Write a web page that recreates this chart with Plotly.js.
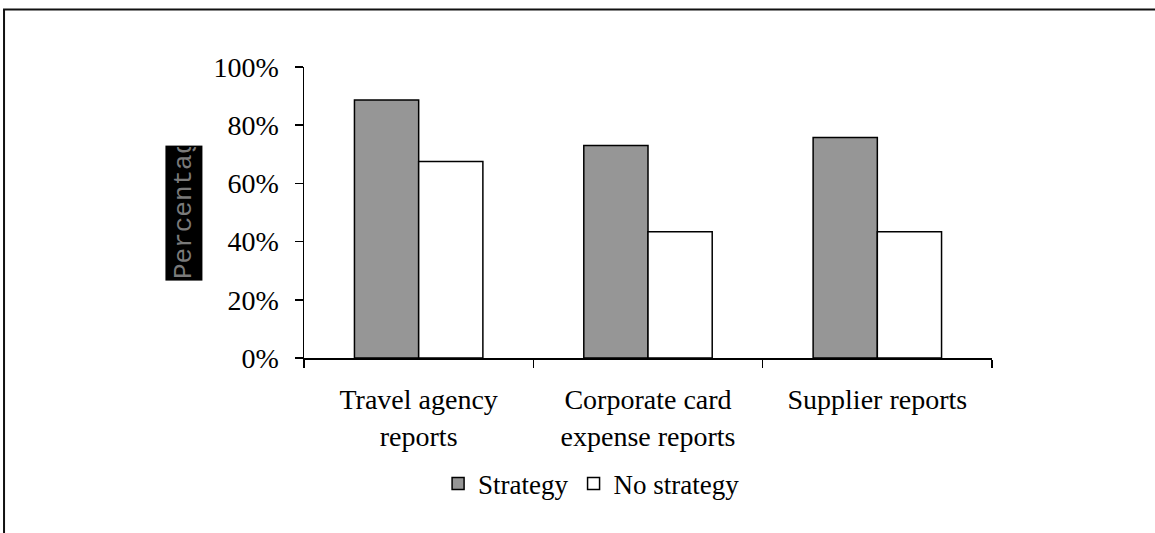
<!DOCTYPE html>
<html>
<head>
<meta charset="utf-8">
<script src="https://cdn.plot.ly/plotly-3.0.1.min.js"></script>
<style>html,body{margin:0;padding:0;background:#fff;}#chart{width:1155px;height:533px;}</style>
</head>
<body>
<div id="chart"></div>
<script>
const categories = ["Travel agency<br>reports", "Corporate card<br>expense reports", "Supplier reports"];
const strategyValues = [88.7, 73.0, 75.8];
const noStrategyValues = [67.5, 43.4, 43.4];
const seriesNames = ["Strategy", "No strategy"];
const yTickValues = [0, 20, 40, 60, 80, 100];
const yTickLabels = ["0%", "20%", "40%", "60%", "80%", "100%"];
const yAxisTitle = "Percentage";

const fontFam = "'Liberation Serif', 'Times New Roman', serif";

const traces = [
  {type: 'bar', name: seriesNames[0], x: categories, y: strategyValues,
   marker: {color: '#969696', line: {color: '#000', width: 1.5}}, hoverinfo: 'skip'},
  {type: 'bar', name: seriesNames[1], x: categories, y: noStrategyValues,
   marker: {color: '#ffffff', line: {color: '#000', width: 1.5}}, hoverinfo: 'skip'}
];

const layout = {
  width: 1155, height: 533,
  margin: {l: 304, r: 163, t: 67, b: 175, pad: 0},
  paper_bgcolor: '#fff', plot_bgcolor: '#fff',
  font: {family: fontFam, size: 28, color: '#000'},
  barmode: 'group', bargap: 0.44, bargroupgap: 0,
  showlegend: true,
  legend: {orientation: 'h', x: 0.418, y: -0.433, xanchor: 'center', yanchor: 'middle',
           font: {family: fontFam, size: 27}, bgcolor: 'rgba(0,0,0,0)', traceorder: 'normal'},
  xaxis: {showline: true, linecolor: '#000', linewidth: 1.5, ticks: 'outside', tickson: 'boundaries',
          ticklen: 8, tickcolor: '#000', tickwidth: 1.5, showgrid: false, zeroline: false,
          tickfont: {family: fontFam, size: 28}, ticklabelstandoff: 16},
  yaxis: {range: [0, 100], tickmode: 'array', tickvals: yTickValues, ticktext: yTickLabels,
          showline: true, linecolor: '#000',
          linewidth: 1.5, ticks: 'outside', ticklen: 8, tickcolor: '#000', tickwidth: 1.5,
          showgrid: false, zeroline: false, tickfont: {family: fontFam, size: 28}, ticklabelstandoff: 10},
  annotations: [{
    text: yAxisTitle, xref: 'paper', yref: 'paper', x: -0.1744, y: 0.498,
    xanchor: 'center', yanchor: 'middle', textangle: -90, showarrow: false,
    width: 132, height: 34, align: 'left', valign: 'middle',
    bgcolor: '#000', font: {family: "'Liberation Mono', 'Courier New', monospace", size: 26, color: '#7a7a7a'}
  }],
  shapes: [{
    type: 'rect', xref: 'paper', yref: 'paper',
    x0: -0.436, x1: 1.25, y0: -0.63, y1: 1.1976,
    line: {color: '#111', width: 2}, fillcolor: 'rgba(0,0,0,0)', layer: 'below'
  }]
};

Plotly.newPlot('chart', traces, layout, {displayModeBar: false, staticPlot: true});
</script>
</body>
</html>
